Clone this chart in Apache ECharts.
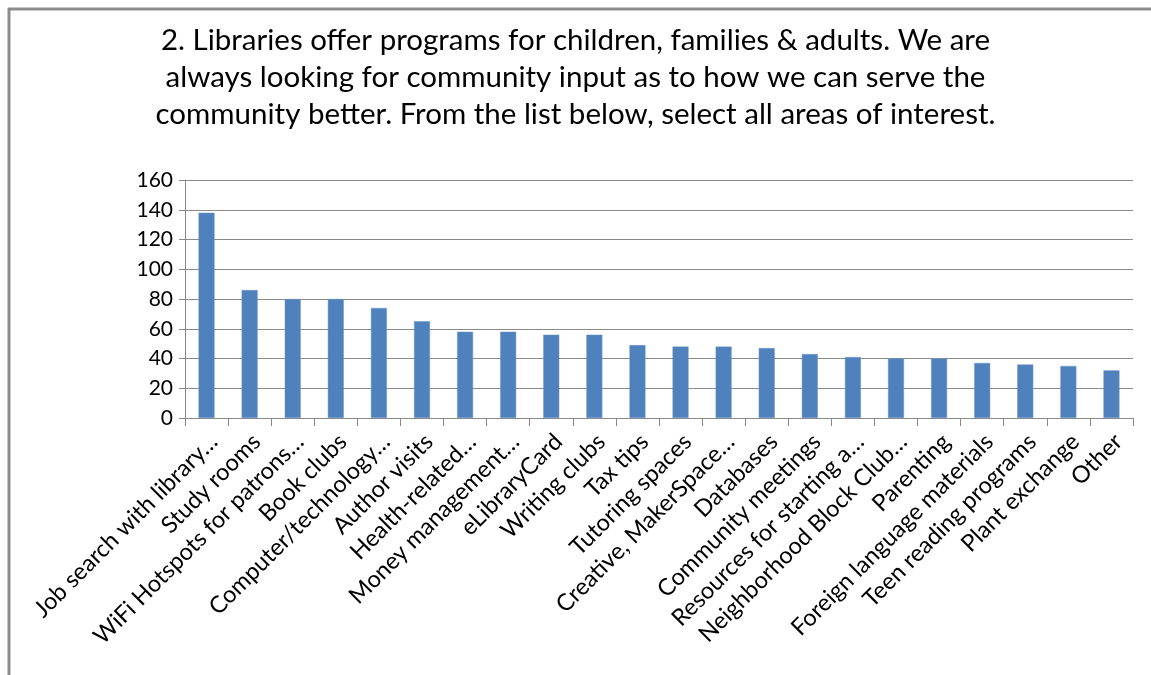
<!DOCTYPE html>
<html>
<head>
<meta charset="utf-8">
<script src="https://cdn.jsdelivr.net/npm/echarts@6/dist/echarts.min.js"></script>
<style>
  html, body { margin: 0; padding: 0; background: #fff; }
  #chart { width: 1151px; height: 675px; }
</style>
</head>
<body>
<div id="chart"></div>
<script>
const titleLines = [
  '2. Libraries offer programs for children, families & adults. We are',
  'always looking for community input as to how we can serve the',
  'community better. From the list below, select all areas of interest.'
];
const categories = [
  'Job search with library…', 'Study rooms', 'WiFi Hotspots for patrons…', 'Book clubs',
  'Computer/technology…', 'Author visits', 'Health-related…', 'Money management…',
  'eLibraryCard', 'Writing clubs', 'Tax tips', 'Tutoring spaces', 'Creative, MakerSpace…',
  'Databases', 'Community meetings', 'Resources for starting a…', 'Neighborhood Block Club…',
  'Parenting', 'Foreign language materials', 'Teen reading programs', 'Plant exchange', 'Other'
];
const values = [138, 86, 80, 80, 74, 65, 58, 58, 56, 56, 49, 48, 48, 47, 43, 41, 40, 40, 37, 36, 35, 32];
const yTicks = { min: 0, max: 160, interval: 20 };

const FONT = 'Lato';
const chart = echarts.init(document.getElementById('chart'), null, { renderer: 'canvas' });
chart.setOption({
  animation: false,
  backgroundColor: '#fff',
  textStyle: { fontFamily: FONT },
  title: {
    text: titleLines.join('\n'),
    left: 'center',
    top: 17,
    textStyle: { fontFamily: FONT, fontSize: 29.5, fontWeight: 'normal', color: '#000', lineHeight: 37 }
  },
  graphic: [
    { type: 'line', shape: { x1: 8, y1: 9, x2: 1151, y2: 9 }, style: { stroke: '#8c8c8c', lineWidth: 3 } },
    { type: 'line', shape: { x1: 9, y1: 8, x2: 9, y2: 675 }, style: { stroke: '#8c8c8c', lineWidth: 3 } }
  ],
  grid: { left: 185, right: 18, top: 180, bottom: 257, containLabel: false },
  xAxis: {
    type: 'category',
    data: categories,
    axisLine: { lineStyle: { color: '#888', width: 1 } },
    axisTick: { show: true, alignWithLabel: false, length: 8, lineStyle: { color: '#888' } },
    axisLabel: { rotate: 45, interval: 0, fontFamily: FONT, fontSize: 23.5, color: '#000', margin: 27, padding: [0, -10, 0, 0] }
  },
  yAxis: {
    type: 'value',
    min: yTicks.min, max: yTicks.max, interval: yTicks.interval,
    axisLine: { show: true, lineStyle: { color: '#888', width: 1 } },
    axisTick: { show: true, length: 6, lineStyle: { color: '#888' } },
    splitLine: { lineStyle: { color: '#8a8a8a', width: 1 } },
    axisLabel: { fontFamily: FONT, fontSize: 21, color: '#000', margin: 12 }
  },
  series: [{
    type: 'bar',
    data: values,
    barWidth: 16,
    itemStyle: { color: '#4F81BD', borderColor: '#6f98c9', borderWidth: 0.5 }
  }]
});
</script>
</body>
</html>
